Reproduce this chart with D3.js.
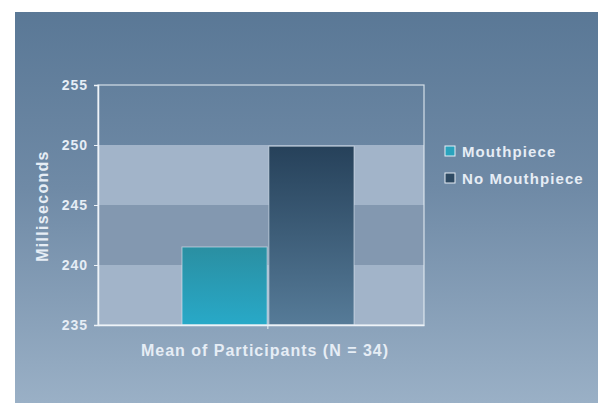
<!DOCTYPE html>
<html>
<head>
<meta charset="utf-8">
<script src="https://cdn.jsdelivr.net/npm/d3@7"></script>
<style>
  body { margin: 0; background: #fff; }
  text { font-family: "Liberation Sans", Arial, sans-serif; font-weight: bold; }
</style>
</head>
<body>
<div id="chartArea"></div>
<script>
// Data
const groups = ["Mouthpiece", "No Mouthpiece"];
const values = [241.5, 249.9];
const yTicks = [235, 240, 245, 250, 255];
const bandRanges = [[235, 240], [240, 245], [245, 250], [250, 255]];
const xLabel = "Mean of Participants (N = 34)";
const yLabel = "Milliseconds";

// Dimensions
const width = 606, height = 412;
const plot = { left: 98, right: 424, top: 85, bottom: 325 };

const svg = d3.select("#chartArea")
    .append("svg")
    .attr("width", width)
    .attr("height", height);

const defs = svg.append("defs");

const bgGrad = defs.append("linearGradient").attr("id", "bg").attr("x1", 0).attr("y1", 0).attr("x2", 0).attr("y2", 1);
bgGrad.append("stop").attr("offset", "0%").attr("stop-color", "#5a7896");
bgGrad.append("stop").attr("offset", "45%").attr("stop-color", "#6f8aa6");
bgGrad.append("stop").attr("offset", "100%").attr("stop-color", "#9ab0c6");

const g1 = defs.append("linearGradient").attr("id", "bar0").attr("x1", 0).attr("y1", 0).attr("x2", 0).attr("y2", 1);
g1.append("stop").attr("offset", "0%").attr("stop-color", "#2a8fa2");
g1.append("stop").attr("offset", "100%").attr("stop-color", "#28a9c8");

const g2 = defs.append("linearGradient").attr("id", "bar1").attr("x1", 0).attr("y1", 0).attr("x2", 0).attr("y2", 1);
g2.append("stop").attr("offset", "0%").attr("stop-color", "#26415a");
g2.append("stop").attr("offset", "100%").attr("stop-color", "#567b98");

// Background panel
svg.append("rect")
    .attr("x", 15).attr("y", 12)
    .attr("width", 583).attr("height", 391)
    .attr("fill", "url(#bg)");

// Scales
const y = d3.scaleLinear().domain([235, 255]).range([plot.bottom, plot.top]);
const x = d3.scaleBand().domain(groups).range([182, 354]).paddingInner(0.02);

// Bands
const bandFill = ["#a2b4c9", "#8398b0", "#a2b4c9", "rgba(0,0,0,0)"];
svg.append("g")
    .selectAll("rect")
    .data(bandRanges)
    .join("rect")
    .attr("x", plot.left)
    .attr("y", d => y(d[1]))
    .attr("width", plot.right - plot.left)
    .attr("height", d => y(d[0]) - y(d[1]))
    .attr("fill", (d, i) => bandFill[i]);

// Bars
svg.append("g")
    .selectAll("rect")
    .data(values)
    .join("rect")
    .attr("x", (d, i) => x(groups[i]))
    .attr("y", d => y(d))
    .attr("width", x.bandwidth())
    .attr("height", d => y(235) - y(d))
    .attr("fill", (d, i) => `url(#bar${i})`)
    .attr("stroke", "rgba(225,235,245,0.6)")
    .attr("stroke-width", 1);

// Frame
svg.append("rect")
    .attr("x", plot.left).attr("y", plot.top)
    .attr("width", plot.right - plot.left)
    .attr("height", plot.bottom - plot.top)
    .attr("fill", "none")
    .attr("stroke", "#e8eef5")
    .attr("stroke-opacity", 0.85)
    .attr("stroke-width", 1.2);

// Y axis
const yAxis = svg.append("g")
    .attr("transform", `translate(${plot.left},0)`)
    .call(d3.axisLeft(y).tickValues(yTicks).tickSize(4).tickPadding(6));
yAxis.select(".domain").attr("stroke", "#eef3f8").attr("stroke-width", 1.5);
yAxis.selectAll(".tick line").attr("stroke", "#eef3f8");
yAxis.selectAll(".tick text")
    .attr("fill", "#e6edf5")
    .style("font-size", "14px")
    .style("letter-spacing", "1px")
    .style("font-family", "'Liberation Sans', Arial, sans-serif")
    .style("font-weight", "bold");

// X axis
const xAxis = svg.append("g")
    .attr("transform", `translate(0,${plot.bottom})`)
    .call(d3.axisBottom(d3.scaleLinear().domain([0, 1]).range([plot.left, plot.right])).tickValues([]).tickSizeOuter(0));
xAxis.select(".domain").attr("stroke", "#eef3f8").attr("stroke-width", 1.5);
svg.append("line")
    .attr("x1", x(groups[1]) - 1).attr("x2", x(groups[1]) - 1)
    .attr("y1", plot.bottom).attr("y2", plot.bottom + 4)
    .attr("stroke", "#eef3f8");

// Axis labels
svg.append("text")
    .attr("x", 265)
    .attr("y", 356)
    .attr("text-anchor", "middle")
    .attr("fill", "#e6edf5")
    .style("font-size", "16px")
    .style("letter-spacing", "1px")
    .text(xLabel);

svg.append("text")
    .attr("transform", `translate(48,206) rotate(-90)`)
    .attr("text-anchor", "middle")
    .attr("fill", "#e6edf5")
    .style("font-size", "16px")
    .style("letter-spacing", "1.3px")
    .text(yLabel);

// Legend
const legend = svg.append("g").attr("transform", "translate(445,146)");
const items = legend.selectAll("g")
    .data(groups)
    .join("g")
    .attr("transform", (d, i) => `translate(0,${i * 27})`);
items.append("rect")
    .attr("width", 10).attr("height", 10)
    .attr("fill", (d, i) => i === 0 ? "#2aa3bd" : "#2e4a63")
    .attr("stroke", "#e6edf5")
    .attr("stroke-width", 1);
items.append("text")
    .attr("x", 17).attr("y", 11)
    .attr("fill", "#e6edf5")
    .style("font-size", "15px")
    .style("letter-spacing", "1.1px")
    .text(d => d);
</script>
</body>
</html>
